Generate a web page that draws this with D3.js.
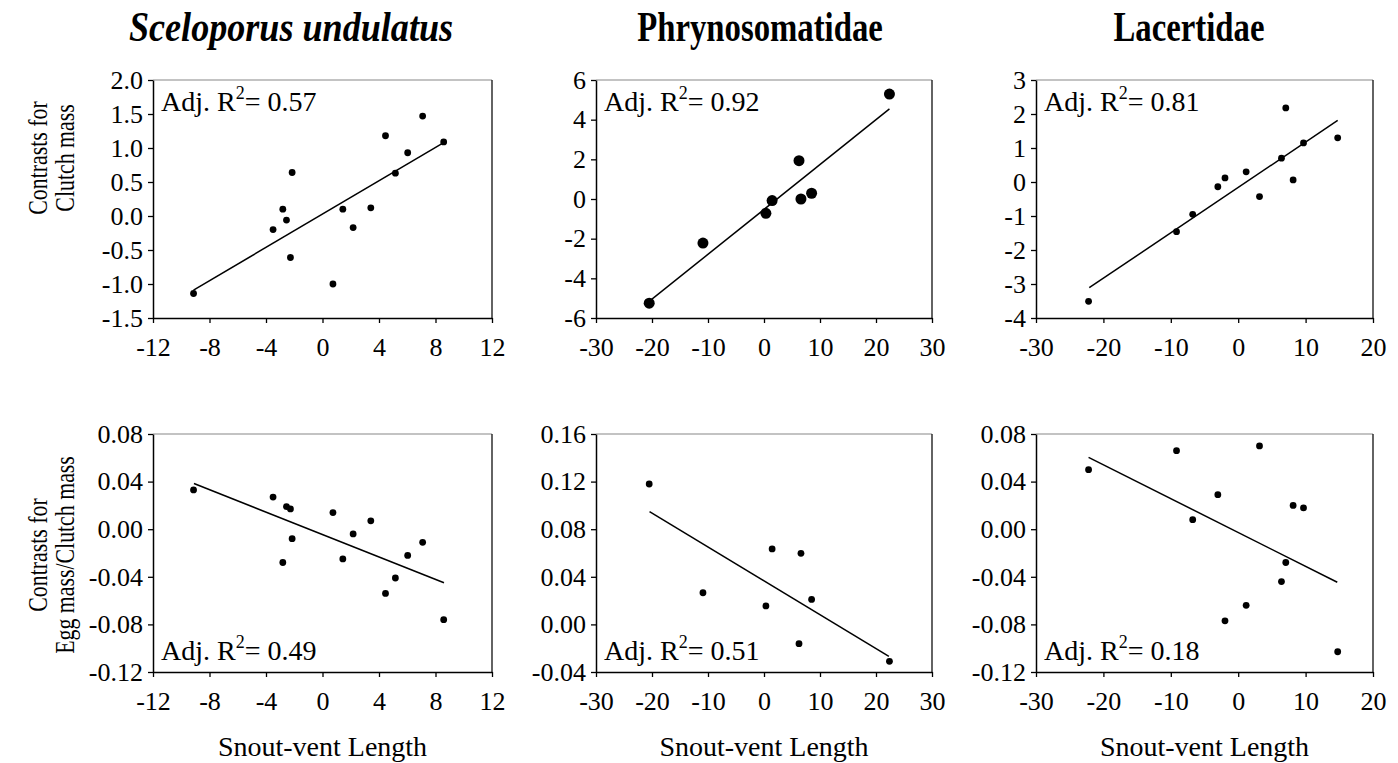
<!DOCTYPE html>
<html>
<head>
<meta charset="utf-8">
<script src="https://cdn.jsdelivr.net/npm/d3@7"></script>
<style>
  body { margin: 0; background: #fff; }
  text { font-family: "Liberation Serif", "Times New Roman", serif; fill: #000; }
</style>
</head>
<body>
<svg id="chart"></svg>
<script>
// column titles
let titles = ["Sceloporus undulatus", "Phrynosomatidae", "Lacertidae"];

// Sceloporus undulatus contrasts
let svlSceloporus = [-9.13, -3.5, -2.81, -2.55, -2.27, -2.15, 0.74, 1.44, 2.17, 3.42, 4.46, 5.16, 6.03, 7.09, 8.58];
let clutchSceloporus = [-1.14, -0.20, 0.10, -0.06, -0.61, 0.64, -1.0, 0.10, -0.17, 0.12, 1.18, 0.63, 0.93, 1.47, 1.09];
let eggSceloporus = [0.033, 0.027, -0.028, 0.019, 0.017, -0.008, 0.014, -0.025, -0.004, 0.007, -0.054, -0.041, -0.022, -0.011, -0.076];

// Phrynosomatidae contrasts
let svlPhryno = [-20.5, -10.9, 0.34, 1.45, 6.25, 6.6, 8.5, 22.4];
let clutchPhryno = [-5.25, -2.22, -0.72, -0.08, 1.93, 0.0, 0.29, 5.29];
let eggPhryno = [0.118, 0.0266, 0.0155, 0.0634, -0.0162, 0.0597, 0.021, -0.031];

// Lacertidae contrasts
let svlLacert = [-22.2, -9.15, -6.75, -3.02, -1.96, 1.18, 3.16, 6.42, 7.06, 8.15, 9.69, 14.76];
let clutchLacert = [-3.51, -1.46, -0.95, -0.14, 0.12, 0.30, -0.43, 0.70, 2.18, 0.06, 1.15, 1.30];
let eggLacert = [0.050, 0.066, 0.008, 0.029, -0.077, -0.064, 0.070, -0.044, -0.028, 0.020, 0.018, -0.103];

// fitted lines [x0, y0, x1, y1]
let fitSceloporusClutch = [-9.13, -1.09, 8.58, 1.08];
let fitPhrynoClutch = [-20.4, -5.14, 22.4, 4.54];
let fitLacertClutch = [-22.1, -3.11, 14.76, 1.81];
let fitSceloporusEgg = [-9.1, 0.0384, 8.6, -0.045];
let fitPhrynoEgg = [-20.44, 0.0947, 22.3, -0.0268];
let fitLacertEgg = [-22.2, 0.0604, 14.7, -0.0446];

let adjR2 = ["0.57", "0.92", "0.81", "0.49", "0.51", "0.18"];

// tick values
let xTicksSceloporus = [-12, -8, -4, 0, 4, 8, 12];
let xTicksPhryno = [-30, -20, -10, 0, 10, 20, 30];
let xTicksLacert = [-30, -20, -10, 0, 10, 20];
let yTicksSceloporusClutch = [-1.5, -1.0, -0.5, 0.0, 0.5, 1.0, 1.5, 2.0];
let yTicksPhrynoClutch = [-6, -4, -2, 0, 2, 4, 6];
let yTicksLacertClutch = [-4, -3, -2, -1, 0, 1, 2, 3];
let yTicksSceloporusEgg = [-0.12, -0.08, -0.04, 0.00, 0.04, 0.08];
let yTicksPhrynoEgg = [-0.04, 0.00, 0.04, 0.08, 0.12, 0.16];
let yTicksLacertEgg = [-0.12, -0.08, -0.04, 0.00, 0.04, 0.08];

let rowLabels = [["Contrasts for", "Clutch mass"], ["Contrasts for", "Egg mass/Clutch mass"]];
let xLabel = "Snout-vent Length";

let width = 1398;
let height = 763;

let colLeft = [153, 596, 1036];
let colRight = [492, 932, 1373];
let rowTop = [80, 434];
let rowBottom = [318, 672];
let titleX = [291, 760, 1189];

let loc = d3.formatLocale({decimal: ".", thousands: ",", grouping: [3], currency: ["", ""], minus: "-"});

let panels = [
  {col: 0, row: 0, x: svlSceloporus, y: clutchSceloporus, fit: fitSceloporusClutch, xt: xTicksSceloporus, yt: yTicksSceloporusClutch, yf: ".1f", r: 3.4, r2: adjR2[0]},
  {col: 1, row: 0, x: svlPhryno, y: clutchPhryno, fit: fitPhrynoClutch, xt: xTicksPhryno, yt: yTicksPhrynoClutch, yf: "d", r: 5.5, r2: adjR2[1]},
  {col: 2, row: 0, x: svlLacert, y: clutchLacert, fit: fitLacertClutch, xt: xTicksLacert, yt: yTicksLacertClutch, yf: "d", r: 3.4, r2: adjR2[2]},
  {col: 0, row: 1, x: svlSceloporus, y: eggSceloporus, fit: fitSceloporusEgg, xt: xTicksSceloporus, yt: yTicksSceloporusEgg, yf: ".2f", r: 3.4, r2: adjR2[3]},
  {col: 1, row: 1, x: svlPhryno, y: eggPhryno, fit: fitPhrynoEgg, xt: xTicksPhryno, yt: yTicksPhrynoEgg, yf: ".2f", r: 3.4, r2: adjR2[4]},
  {col: 2, row: 1, x: svlLacert, y: eggLacert, fit: fitLacertEgg, xt: xTicksLacert, yt: yTicksLacertEgg, yf: ".2f", r: 3.4, r2: adjR2[5]}
];

let svg = d3.select("#chart")
  .attr("width", width)
  .attr("height", height);

let drawPanel = (p) => {
  let left = colLeft[p.col], right = colRight[p.col];
  let top = rowTop[p.row], bottom = rowBottom[p.row];

  let xScale = d3.scaleLinear()
    .domain([p.xt[0], p.xt[p.xt.length - 1]])
    .range([left, right]);
  let yScale = d3.scaleLinear()
    .domain([p.yt[0], p.yt[p.yt.length - 1]])
    .range([bottom, top]);

  let g = svg.append("g");

  // frame: light top, dark right
  g.append("line")
    .attr("x1", left).attr("x2", right).attr("y1", top).attr("y2", top)
    .attr("stroke", "#888").attr("stroke-width", 1.2);
  g.append("line")
    .attr("x1", right).attr("x2", right).attr("y1", top).attr("y2", bottom)
    .attr("stroke", "#222").attr("stroke-width", 1.4);

  let xAxis = d3.axisBottom(xScale)
    .tickValues(p.xt)
    .tickSize(5)
    .tickSizeOuter(0)
    .tickPadding(15)
    .tickFormat(loc.format("d"));
  let yAxis = d3.axisLeft(yScale)
    .tickValues(p.yt)
    .tickSize(5)
    .tickSizeOuter(0)
    .tickPadding(5)
    .tickFormat(loc.format(p.yf));

  let gx = g.append("g")
    .attr("transform", "translate(0," + bottom + ")")
    .call(xAxis);
  let gy = g.append("g")
    .attr("transform", "translate(" + left + ",0)")
    .call(yAxis);

  [gx, gy].forEach(a => {
    a.attr("font-family", null).attr("font-size", null);
    a.select(".domain").attr("stroke", "#000").attr("stroke-width", 1.5);
    a.selectAll(".tick line").attr("stroke", "#000").attr("stroke-width", 1.3);
    a.selectAll(".tick text").style("font-size", "26px");
  });

  g.append("line")
    .attr("x1", xScale(p.fit[0])).attr("y1", yScale(p.fit[1]))
    .attr("x2", xScale(p.fit[2])).attr("y2", yScale(p.fit[3]))
    .attr("stroke", "#000").attr("stroke-width", 1.5);

  g.selectAll("circle")
    .data(p.x.map((v, i) => [v, p.y[i]]))
    .enter()
    .append("circle")
    .attr("cx", d => xScale(d[0]))
    .attr("cy", d => yScale(d[1]))
    .attr("r", p.r)
    .attr("fill", "#000");

  let ly = p.row === 0 ? top + 31 : bottom - 12;
  let lab = g.append("text")
    .attr("x", left + 8)
    .attr("y", ly)
    .style("font-size", "28px");
  lab.append("tspan").text("Adj. R");
  lab.append("tspan").attr("dy", -12).style("font-size", "18px").text("2");
  lab.append("tspan").attr("dy", 12).text("= " + p.r2);
};

panels.forEach(drawPanel);

// column titles
svg.selectAll(".title")
  .data(titles)
  .enter()
  .append("text")
  .attr("class", "title")
  .attr("transform", (d, i) => "translate(" + titleX[i] + ",41) scale(" + (i === 0 ? 0.86 : 0.78) + ",1)")
  .attr("text-anchor", "middle")
  .style("font-size", "42px")
  .style("font-weight", "bold")
  .style("font-style", (d, i) => i === 0 ? "italic" : "normal")
  .text(d => d);

// row labels
rowLabels.forEach((lines, r) => {
  let cy = r === 0 ? 158 : 555;
  lines.forEach((t, k) => {
    svg.append("text")
      .attr("transform", "translate(" + (k === 0 ? 47 : 74) + "," + cy + ") rotate(-90) scale(0.78,1)")
      .attr("text-anchor", "middle")
      .style("font-size", "28px")
      .text(t);
  });
});

// x labels
colLeft.forEach((l, i) => {
  svg.append("text")
    .attr("x", (l + colRight[i]) / 2)
    .attr("y", 756)
    .attr("text-anchor", "middle")
    .style("font-size", "28px")
    .text(xLabel);
});
</script>
</body>
</html>
